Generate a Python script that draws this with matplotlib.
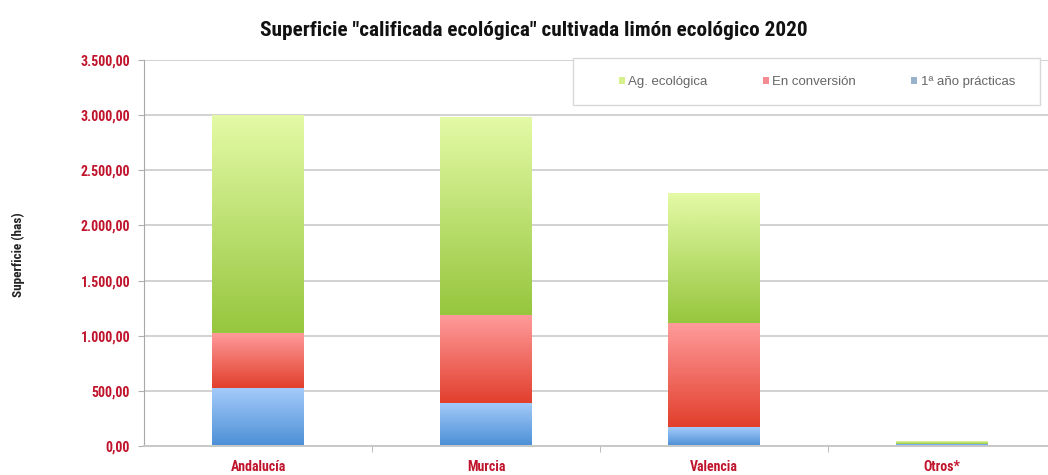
import numpy as np
import matplotlib
matplotlib.use("Agg")
import matplotlib.pyplot as plt
from matplotlib.colors import LinearSegmentedColormap
from matplotlib.patches import Patch, Rectangle
from matplotlib.ticker import FuncFormatter, MultipleLocator, FixedLocator

# Data (hectares)
regiones = ["Andalucía", "Murcia", "Valencia", "Otros*"]
primer_anio = [525, 390, 172, 20]
en_conversion = [500, 798, 945, 0]
ag_ecologica = [1975, 1787, 1177, 25]
series_labels = ["Ag. ecológica", "En conversión", "1ª año prácticas"]

FONT = ["Liberation Sans Narrow", "Roboto Condensed", "Liberation Sans", "DejaVu Sans"]
plt.rcParams["font.family"] = FONT
RED = "#c0142c"

fig = plt.figure(figsize=(10.48, 4.75), dpi=100)
W, H = 1048, 475
x_left, x_right = 144, 1056
y_top, y_bot = 60, 446
ax = fig.add_axes([x_left / W, 1 - y_bot / H, (x_right - x_left) / W, (y_bot - y_top) / H])

x = np.arange(len(regiones))
width = 0.40

gradients = {
    "blue": ("#4c8fd6", "#a4cbfa"),
    "red": ("#e23f2c", "#ff9c9c"),
    "green": ("#96c63e", "#e4faa6"),
}

def gradient_bars(bottoms, heights, key):
    cmap = LinearSegmentedColormap.from_list(key, gradients[key])
    grad = np.linspace(0, 1, 256).reshape(-1, 1)
    bars = ax.bar(x, heights, width, bottom=bottoms, color="none", linewidth=0)
    for b in bars:
        x0, y0 = b.get_x(), b.get_y()
        x1, y1 = x0 + b.get_width(), y0 + b.get_height()
        if b.get_height() <= 0:
            continue
        ax.imshow(grad, cmap=cmap, extent=(x0, x1, y0, y1), origin="lower",
                  aspect="auto", zorder=2, interpolation="bicubic")
    return bars

b1 = np.zeros(len(x))
gradient_bars(b1, primer_anio, "blue")
b2 = b1 + np.array(primer_anio)
gradient_bars(b2, en_conversion, "red")
b3 = b2 + np.array(en_conversion)
gradient_bars(b3, ag_ecologica, "green")

ax.set_xlim(-0.5, 3.5)
ax.set_ylim(0, 3500)

ax.yaxis.set_major_locator(MultipleLocator(500))
ax.yaxis.set_major_formatter(FuncFormatter(
    lambda v, p: f"{v:,.2f}".replace(",", "X").replace(".", ",").replace("X", ".")))
ax.grid(axis="y", color="#d2d2d2", linewidth=1.4, zorder=0)
ax.set_axisbelow(True)

ax.set_xticks(x)
ax.set_xticklabels(regiones)
ax.xaxis.set_minor_locator(FixedLocator([0.5, 1.5, 2.5]))
ax.tick_params(axis="x", which="major", length=0, pad=10, labelsize=10, labelcolor=RED)
ax.tick_params(axis="x", which="minor", length=4, color="#b0b0b0")
ax.tick_params(axis="y", length=4, color="#b0b0b0", labelsize=10, labelcolor=RED, pad=6)
for lab in ax.get_yticklabels() + ax.get_xticklabels():
    lab.set_fontweight("bold")

for s in ["top", "right"]:
    ax.spines[s].set_visible(False)
ax.spines["left"].set_color("#a8a8a8")
ax.spines["bottom"].set_color("#c8c8c8")
ax.spines["bottom"].set_linewidth(1.4)

fig.text(18 / W, 1 - 255 / H, "Superficie (has)", rotation=90, ha="center", va="center",
         fontsize=9.5, fontweight="bold", color="#222222")

fig.text(534 / W, 1 - 30 / H,
         'Superficie "calificada ecológica" cultivada limón ecológico 2020',
         ha="center", va="center", fontsize=15.3, fontweight="bold", color="#111111")

# Legend box
fig.patches.append(Rectangle((573 / W, 1 - 105 / H), 467 / W, 47 / H,
                             transform=fig.transFigure, facecolor="white",
                             edgecolor="#d8d8d8", linewidth=1.0, zorder=5))
handles = [Patch(facecolor="#d6f08c", edgecolor="none"),
           Patch(facecolor="#f48a92", edgecolor="none"),
           Patch(facecolor="#98b2cc", edgecolor="none")]
leg = fig.legend(handles, series_labels, ncol=3, loc="center",
                 bbox_to_anchor=(817 / W, 1 - 82 / H),
                 frameon=False, prop={"family": ["Liberation Sans", "DejaVu Sans"], "size": 9.5},
                 handlelength=0.45, handleheight=0.45, handletextpad=0.25,
                 columnspacing=4.2, labelcolor="#666666")
leg.set_zorder(6)

fig.savefig("out.png", dpi=100, facecolor="white")
